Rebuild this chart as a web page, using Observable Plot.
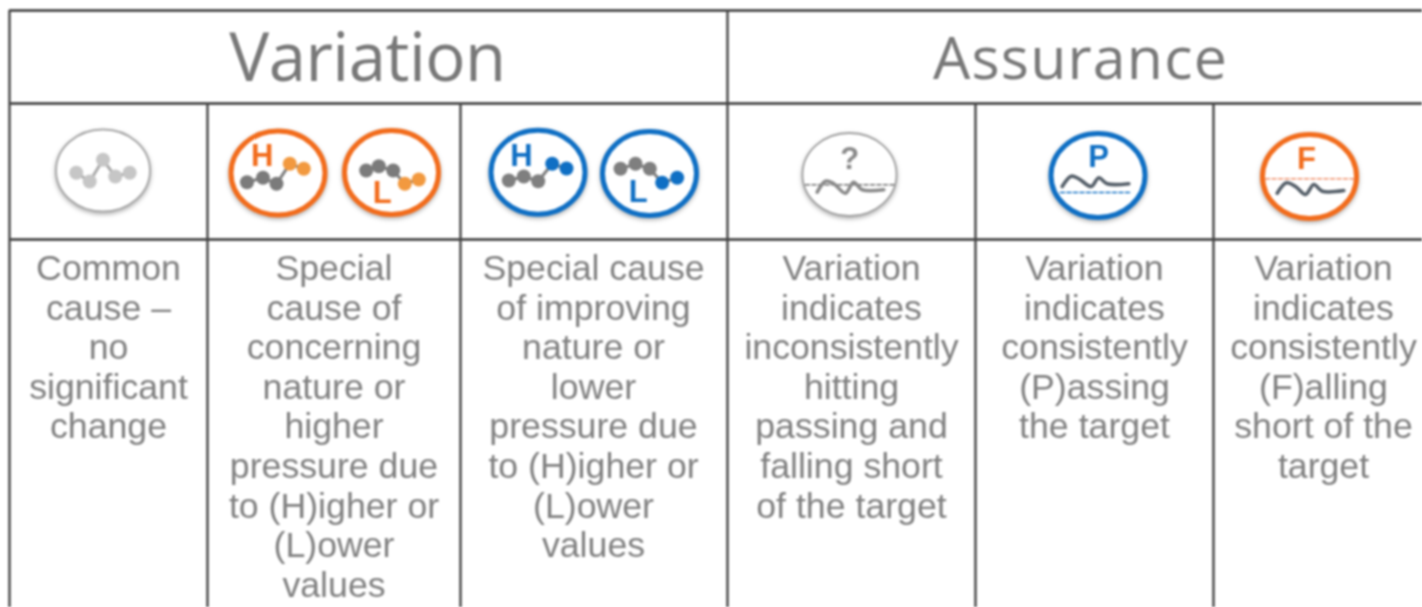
<!DOCTYPE html>
<html><head><meta charset="utf-8">
<script src="https://cdn.jsdelivr.net/npm/d3@7"></script>
<script src="https://cdn.jsdelivr.net/npm/@observablehq/plot@0.6"></script>
<style>html,body{margin:0;padding:0;background:#fff;overflow:hidden}</style>
</head><body><div id="chart"></div>
<script>
// Table structure
const columnEdges = [9, 207, 460, 727, 975, 1213];
const headerEdges = [9, 727];
const rowEdges = [10, 103, 239];

// Cell texts, one list per column
const columnLines = [
  ["Common", "cause –", "no", "significant", "change"],
  ["Special", "cause of", "concerning", "nature or", "higher", "pressure due", "to (H)igher or", "(L)ower", "values"],
  ["Special cause", "of improving", "nature or", "lower", "pressure due", "to (H)igher or", "(L)ower", "values"],
  ["Variation", "indicates", "inconsistently", "hitting", "passing and", "falling short", "of the target"],
  ["Variation", "indicates", "consistently", "(P)assing", "the target"],
  ["Variation", "indicates", "consistently", "(F)alling", "short of the", "target"]
];
const columnCentres = [108, 333.5, 593, 851, 1094, 1323];

// Icons
const icons = ["common", "concernH", "concernL", "improveH", "improveL", "unsure", "pass", "fail"];
const iconX = [102.5, 277.5, 391, 537.5, 649, 849, 1097.5, 1309];
const iconY = [170, 172.5, 172, 171.7, 173, 174, 175, 176];
const iconRing = ["#a8a8a8", "#f26c1c", "#f26c1c", "#0f6fc4", "#0f6fc4", "#a0a0a0", "#0f6fc4", "#f26c1c"];
const iconRingWidth = [2, 5, 5, 5, 5, 1.8, 5, 5];
const iconRx = [47, 47, 47, 47, 47, 47, 47, 47];
const iconRy = [41, 42, 42, 42, 42, 41.5, 42, 42];

// Spark series read from each icon (offset from the icon centre)
const sparkCommon = [[-26.7, 2.3], [-13.3, 11], [0, -10.7], [12.3, 6], [26.7, 2.3]];
const sparkConcernH = [[-31, 9.2], [-15, 4.8], [-1.5, 10.8], [11.8, -9.2], [25.8, -4.2]];
const sparkConcernL = [[-25.3, -2], [-12.7, -6.3], [1.7, -2], [13.3, 11.3], [27.3, 7]];
const sparkImproveH = [[-29.2, 8.3], [-14.2, 4.3], [0.2, 9], [14.2, -8.4], [28.5, -3.7]];
const sparkImproveL = [[-29, -4.7], [-14, -9.7], [0.3, -4.7], [12.7, 9.3], [27.7, 4.3]];
const sparkSeries = [sparkCommon, sparkConcernH, sparkConcernL, sparkImproveH, sparkImproveL];
const sparkLine = ["#aaaaaa", "#7f7f7f", "#7f7f7f", "#7f7f7f", "#7f7f7f"];
const sparkFirst = ["#c6c6c6", "#7b7b7b", "#7b7b7b", "#7f7f7f", "#7f7f7f"];
const sparkLast = ["#c6c6c6", "#f2993f", "#f2993f", "#0f6fc4", "#0f6fc4"];

// Target waves
const waveUnsure = [[-32.3, 17.7], [-24, 6.7], [-16, 9], [-4, 18.7], [4, 7.7], [12.7, 15.3], [34.3, 15.3]];
const wavePass = [[-35.8, 11], [-26.8, 0.7], [-19.2, 3.3], [-6.8, 11], [0.8, 2.3], [9.2, 8.3], [30.8, 8.3]];
const waveFail = [[-32.3, 16.7], [-23, 6.3], [-14, 10], [-4, 18], [4.3, 8], [12.7, 14.7], [34.3, 14]];
const waveSeries = [waveUnsure, wavePass, waveFail];
const waveIcon = [5, 6, 7];
const waveColor = ["#8a8a8a", "#555f69", "#555f69"];
const targetOffset = [10.3, 17, 2.3];
const targetSpan = [[-44, 47], [-37.5, 33.5], [-44, 45]];
const targetColor = ["#6f6f6f", "#0f6fc4", "#f0906a"];

// Letters
const letters = ["H", "L", "H", "L", "?", "P", "F"];
const letterX = [261.7, 381.7, 521, 637.7, 849.3, 1098, 1306];
const letterY = [156, 192.7, 156, 191.7, 159, 157, 159];
const letterColor = ["#f26c1c", "#f26c1c", "#0f6fc4", "#0f6fc4", "#8a8a8a", "#0f6fc4", "#f26c1c"];

// An elliptical ring drawn as a dot symbol
const ellipse = (rx, ry) => ({
  draw(c) {
    const k = 0.5523;
    c.moveTo(rx, 0);
    c.bezierCurveTo(rx, ry * k, rx * k, ry, 0, ry);
    c.bezierCurveTo(-rx * k, ry, -rx, ry * k, -rx, 0);
    c.bezierCurveTo(-rx, -ry * k, -rx * k, -ry, 0, -ry);
    c.bezierCurveTo(rx * k, -ry, rx, -ry * k, rx, 0);
    c.closePath();
  }
});

const tracking = (px) => function (index, scales, values, dimensions, context, next) {
  const g = next(index, scales, values, dimensions, context);
  g.style.letterSpacing = px;
  return g;
};

const cellText = columnLines.flatMap((lines, c) =>
  lines.map((text, i) => ({text, x: columnCentres[c], y: 268 + i * 39.6})));

const rings = icons.map((name, i) => Plot.dot([0], {
  x: () => iconX[i], y: () => iconY[i],
  symbol: ellipse(iconRx[i], iconRy[i]),
  fill: "#fff", stroke: iconRing[i], strokeWidth: iconRingWidth[i],
  imageFilter: "drop-shadow(0px 2px 2px rgba(0,0,0,0.3))"
}));

const sparks = sparkSeries.flatMap((series, s) => {
  const pts = series.map(([dx, dy], i) => ({x: iconX[s] + dx, y: iconY[s] + dy, i}));
  return [
    Plot.line(pts, {x: "x", y: "y", stroke: sparkLine[s], strokeWidth: 3}),
    Plot.dot(pts, {x: "x", y: "y", r: 7, fill: d => d.i < 3 ? sparkFirst[s] : sparkLast[s]})
  ];
});

const waves = waveSeries.flatMap((series, w) => {
  const k = waveIcon[w];
  const pts = series.map(([dx, dy]) => ({x: iconX[k] + dx, y: iconY[k] + dy}));
  const tgt = targetSpan[w].map(dx => ({x: iconX[k] + dx, y: iconY[k] + targetOffset[w]}));
  return [
    Plot.line(tgt, {x: "x", y: "y", stroke: targetColor[w], strokeWidth: 1.6, strokeDasharray: "4,2.5"}),
    Plot.line(pts, {x: "x", y: "y", stroke: waveColor[w], strokeWidth: 3.6, curve: "catmull-rom"})
  ];
});

const chart = Plot.plot({
  width: 1422, height: 607, margin: 0,
  x: {domain: [0, 1422], range: [0, 1422], axis: null},
  y: {domain: [0, 607], range: [0, 607], axis: null},
  style: {background: "#fff", filter: "blur(1px)"},
  marks: [
    Plot.ruleY(rowEdges, {x1: 9, x2: 1422, stroke: "#333", strokeWidth: 2.4}),
    Plot.ruleX(columnEdges.filter(x => headerEdges.includes(x)), {y1: 10, y2: 607, stroke: "#444", strokeWidth: 2.4}),
    Plot.ruleX(columnEdges.filter(x => !headerEdges.includes(x)), {y1: 103, y2: 607, stroke: "#444", strokeWidth: 2.4}),
    Plot.text(["Variation"], {x: () => 367, y: () => 59, text: d => d,
      fontSize: 67, fontFamily: "Open Sans", fill: "#787878", textAnchor: "middle", render: tracking("-0.5px")}),
    Plot.text(["Assurance"], {x: () => 1080, y: () => 60, text: d => d,
      fontSize: 59, fontFamily: "Open Sans", fill: "#787878", textAnchor: "middle", render: tracking("1.2px")}),
    ...rings, ...sparks, ...waves,
    Plot.text(letters, {x: (d, i) => letterX[i], y: (d, i) => letterY[i], text: d => d,
      fontSize: 31, fontWeight: "bold", fontFamily: "Liberation Sans",
      fill: (d, i) => letterColor[i], textAnchor: "middle"}),
    Plot.text(cellText, {x: "x", y: "y", text: "text", fontSize: 35.7, fontFamily: "Liberation Sans",
      fill: "#808080", textAnchor: "middle"})
  ]
});
document.getElementById("chart").append(chart);
</script></body></html>
